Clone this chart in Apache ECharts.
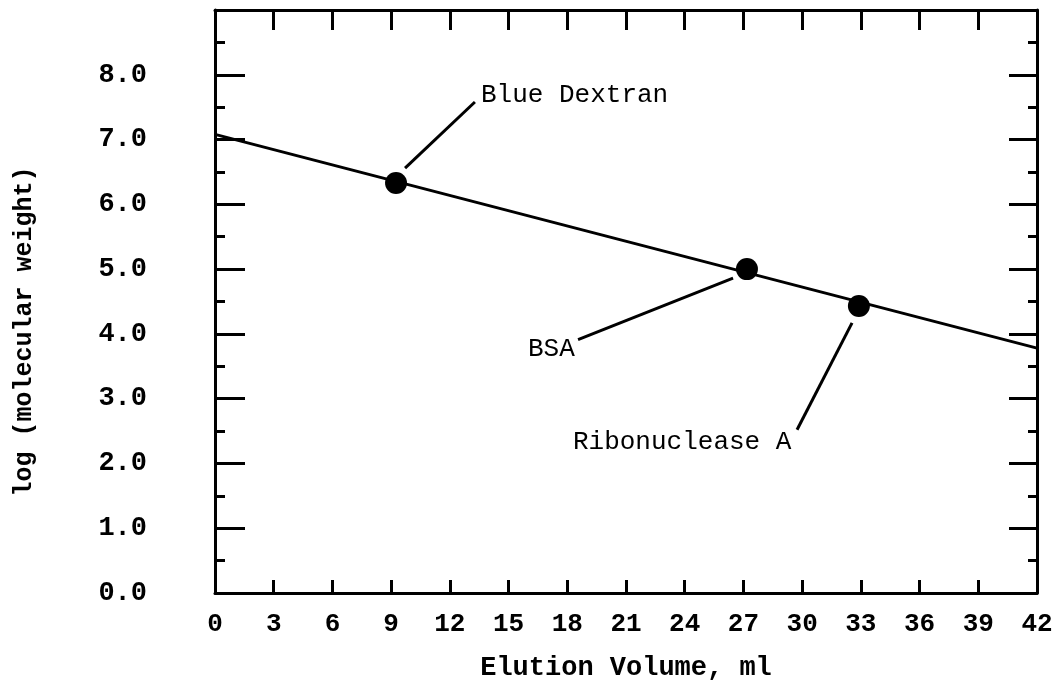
<!DOCTYPE html>
<html><head><meta charset="utf-8">
<script src="https://cdn.jsdelivr.net/npm/echarts@6/dist/echarts.min.js"></script>
<style>html,body{margin:0;padding:0;background:#fff}#c{width:1053px;height:686px}</style>
</head><body><div id="c"></div>
<script>
// Data
const pointNames = ['Blue Dextran', 'BSA', 'Ribonuclease A'];
const pointX = [9.25, 27.18, 32.9];
const pointY = [6.33, 5.00, 4.43];
const fitX = [0, 42];
const fitY = [7.08, 3.78];
const labelX = [13.59, 15.99, 18.29];
const labelY = [7.69, 3.77, 2.33];
const leaderStartX = [9.71, 18.55, 29.74];
const leaderStartY = [6.56, 3.91, 2.52];
const leaderEndX = [13.28, 26.47, 32.55];
const leaderEndY = [7.58, 4.86, 4.17];
const yTickLabels = ['0.0','1.0','2.0','3.0','4.0','5.0','6.0','7.0','8.0'];
const xTickLabels = ['0','3','6','9','12','15','18','21','24','27','30','33','36','39','42'];

const FONT = '"Liberation Mono", "DejaVu Sans Mono", monospace';
const axisLine = {show: true, onZero: false, lineStyle: {color: '#000', width: 3}};

const series = [
  {
    type: 'line', xAxisIndex: 0, yAxisIndex: 0, symbol: 'none', silent: true,
    lineStyle: {color: '#000', width: 3},
    data: fitX.map((x, i) => [x, fitY[i]])
  },
  {
    type: 'scatter', xAxisIndex: 0, yAxisIndex: 0, symbolSize: 22,
    itemStyle: {color: '#000', opacity: 1},
    data: pointX.map((x, i) => ({name: pointNames[i], value: [x, pointY[i]]}))
  },
  {
    type: 'scatter', xAxisIndex: 0, yAxisIndex: 0, symbolSize: 0,
    itemStyle: {color: '#000', opacity: 1},
    label: {show: true, position: 'right', distance: 0, formatter: p => p.name,
      fontFamily: FONT, fontSize: 26, color: '#000', opacity: 1},
    data: labelX.map((x, i) => ({name: pointNames[i], value: [x, labelY[i]]}))
  }
];
leaderStartX.forEach((x, i) => {
  series.push({
    type: 'line', xAxisIndex: 0, yAxisIndex: 0, symbol: 'none', silent: true,
    lineStyle: {color: '#000', width: 3},
    data: [[x, leaderStartY[i]], [leaderEndX[i], leaderEndY[i]]]
  });
});

const chart = echarts.init(document.getElementById('c'));
chart.setOption({
  backgroundColor: '#fff',
  animation: false,
  grid: {left: 215, right: 16, top: 10, bottom: 93, outerBoundsMode: 'none', containLabel: false},
  xAxis: [
    {
      type: 'value', position: 'bottom', min: 0, max: 42, interval: 3,
      axisLine, splitLine: {show: false},
      axisTick: {show: true, inside: true, length: 13, lineStyle: {color: '#000', width: 3}},
      axisLabel: {show: true, margin: 18, fontFamily: FONT, fontWeight: 'bold', fontSize: 26, color: '#000',
        formatter: v => xTickLabels[Math.round(v / 3)] ?? ''},
      name: 'Elution Volume, ml', nameLocation: 'middle', nameGap: 62,
      nameTextStyle: {fontFamily: FONT, fontWeight: 'bold', fontSize: 27, color: '#000'}
    },
    {
      type: 'value', position: 'top', min: 0, max: 42, interval: 3,
      axisLine, splitLine: {show: false},
      axisTick: {show: true, inside: true, length: 20, lineStyle: {color: '#000', width: 3}},
      axisLabel: {show: false}
    }
  ],
  yAxis: [
    {
      type: 'value', position: 'left', min: 0, max: 9, interval: 1,
      axisLine, splitLine: {show: false},
      axisTick: {show: true, inside: true, length: 30, lineStyle: {color: '#000', width: 3}},
      minorTick: {show: true, splitNumber: 2, length: 10, lineStyle: {color: '#000', width: 3}},
      minorSplitLine: {show: false},
      axisLabel: {show: true, margin: 68, fontFamily: FONT, fontWeight: 'bold', fontSize: 27, color: '#000',
        formatter: v => yTickLabels[Math.round(v)] ?? ''},
      name: 'log (molecular weight)', nameLocation: 'middle', nameGap: 178, nameRotate: 90,
      nameTextStyle: {fontFamily: FONT, fontWeight: 'bold', fontSize: 25, color: '#000', padding: [0, 60, 0, 0]}
    },
    {
      type: 'value', position: 'right', min: 0, max: 9, interval: 1,
      axisLine, splitLine: {show: false},
      axisTick: {show: true, inside: true, length: 28, lineStyle: {color: '#000', width: 3}},
      minorTick: {show: true, splitNumber: 2, length: 9, lineStyle: {color: '#000', width: 3}},
      minorSplitLine: {show: false},
      axisLabel: {show: false}
    }
  ],
  series
});
</script></body></html>
